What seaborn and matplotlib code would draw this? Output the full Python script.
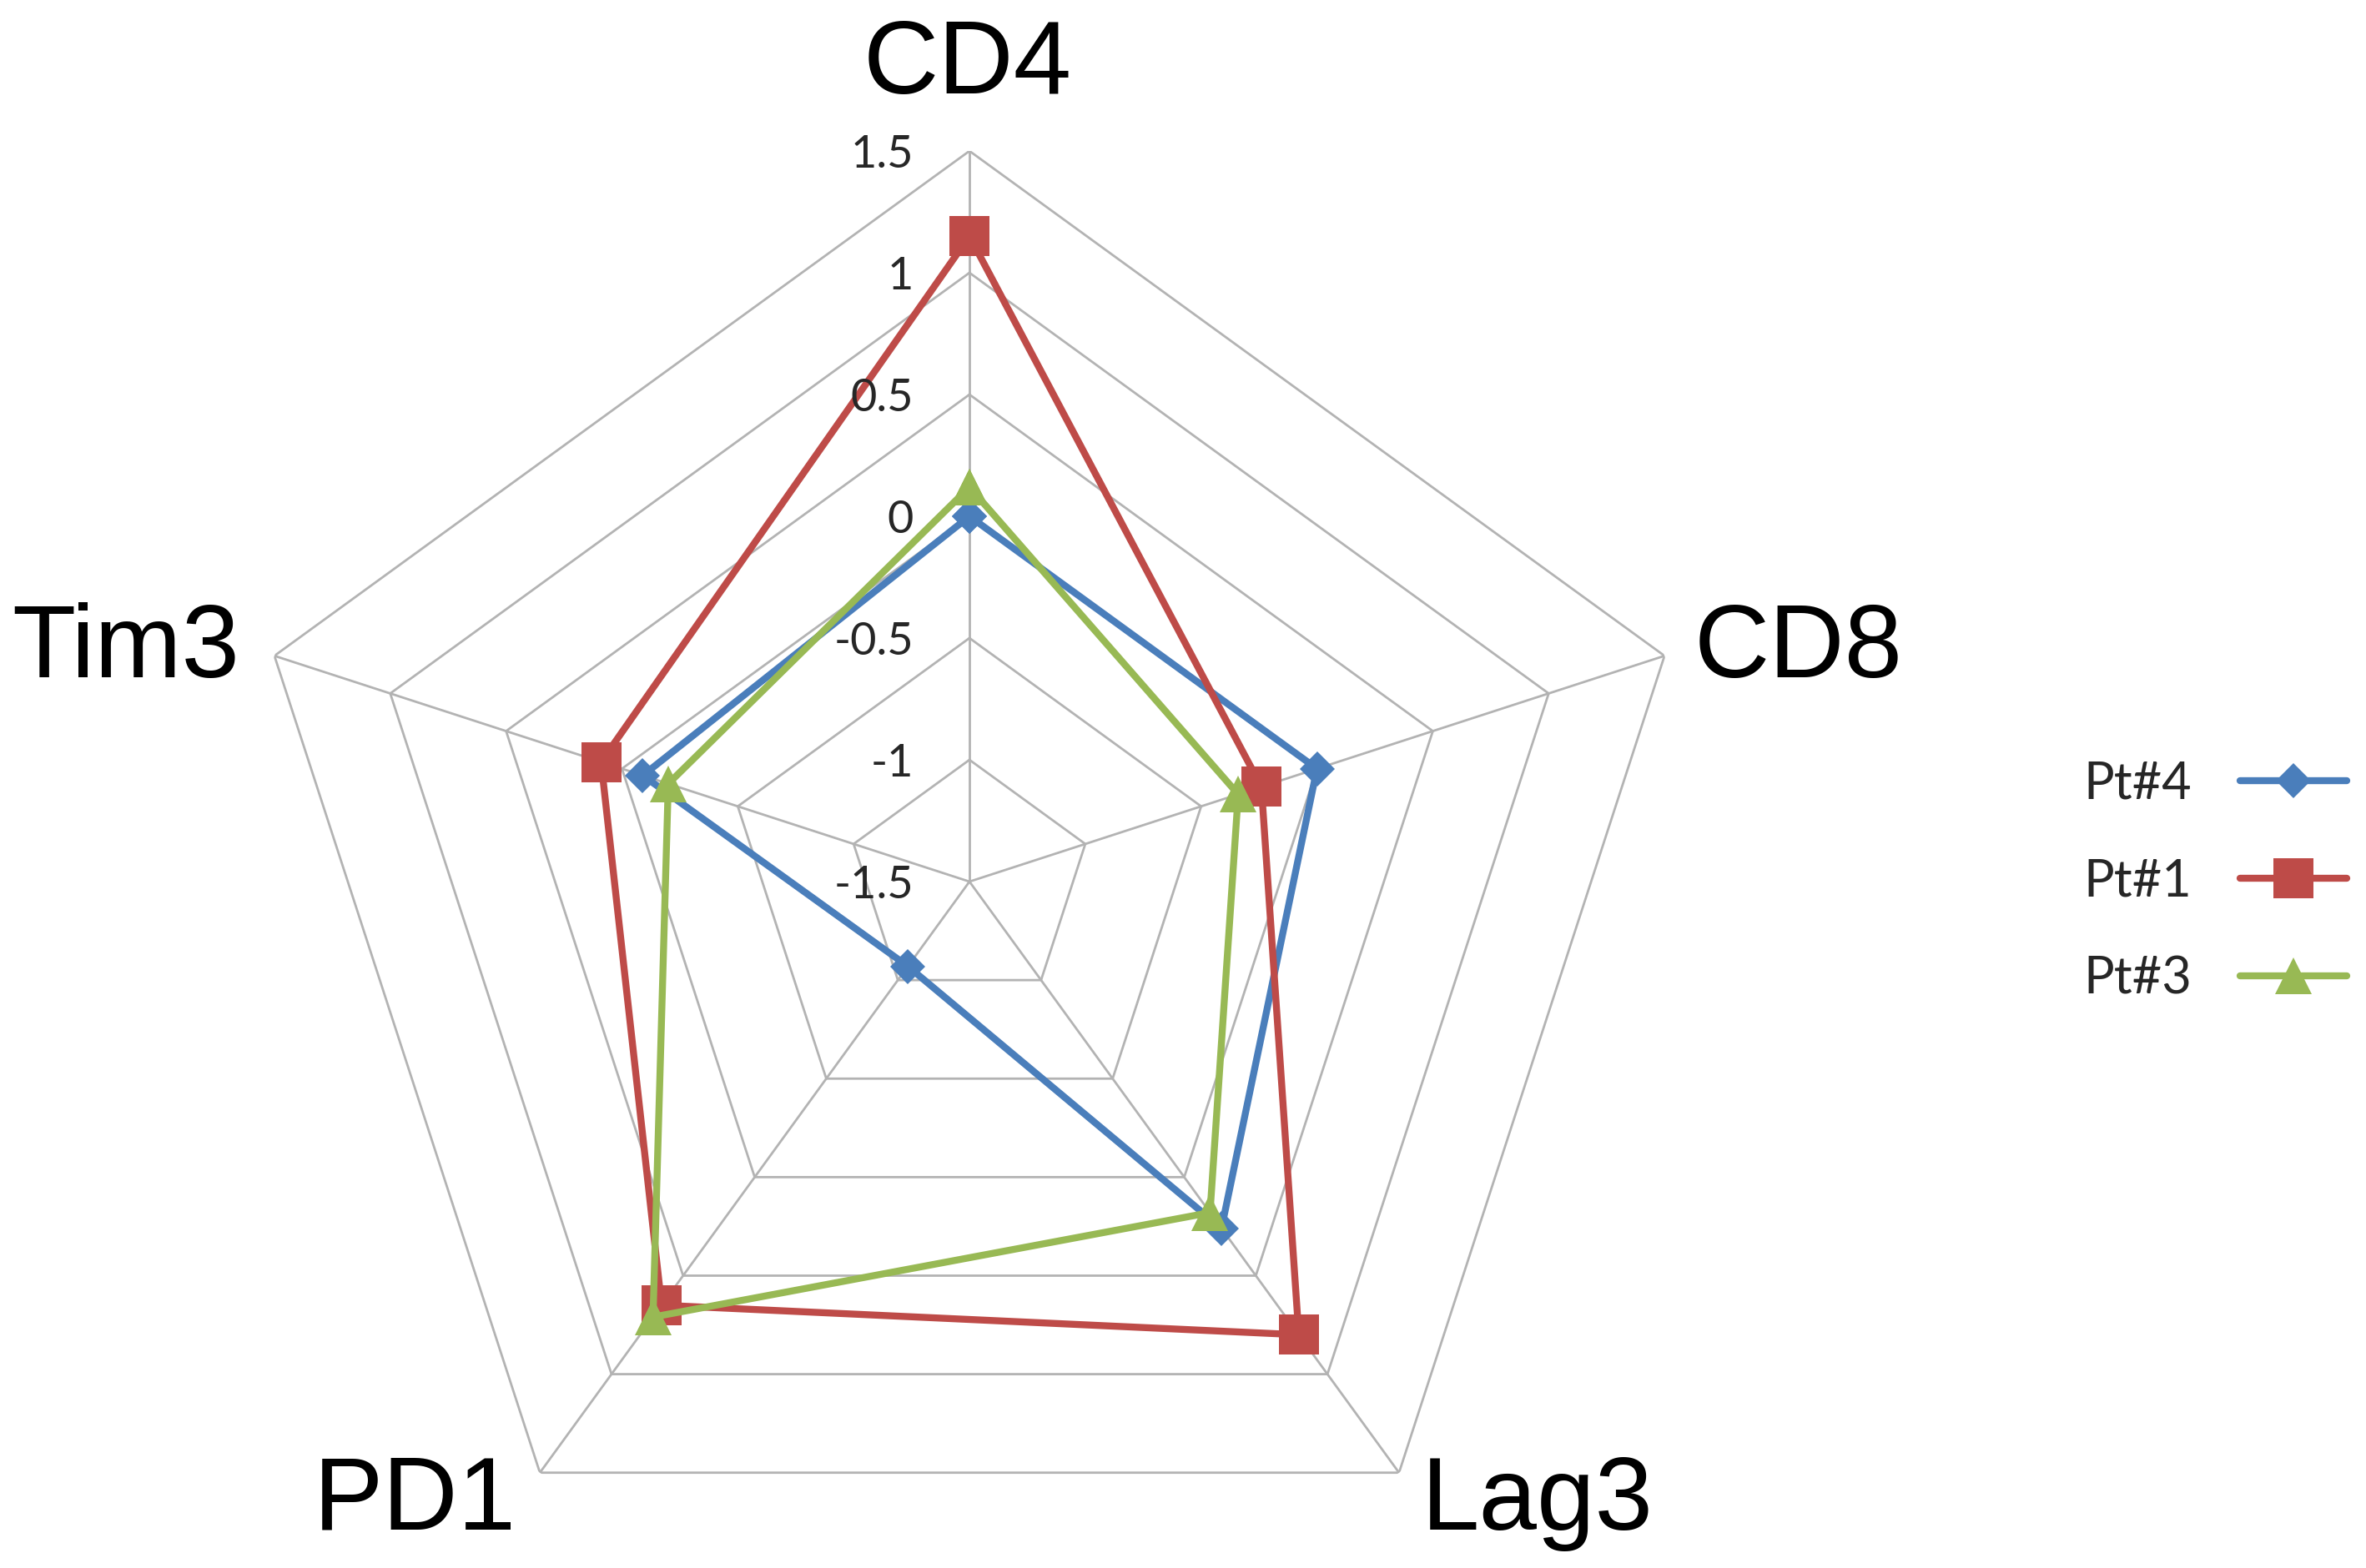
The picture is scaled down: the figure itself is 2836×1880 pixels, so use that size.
import numpy as np
import pandas as pd
import seaborn as sns
import matplotlib
matplotlib.use("Agg")
import matplotlib.pyplot as plt

# ───────────────────────
# Data
# ───────────────────────
markers_axes = ["CD4", "CD8", "Lag3", "PD1", "Tim3"]
pt4 = [0.00, 0.00, 0.26, -1.07, -0.09]
pt1 = [1.15, -0.24, 0.80, 0.65, 0.09]
pt3 = [0.12, -0.34, 0.18, 0.71, -0.20]
series_names = ["Pt#4", "Pt#1", "Pt#3"]
ring_levels = [-1.5, -1.0, -0.5, 0.0, 0.5, 1.0, 1.5]
ring_labels = ["-1.5", "-1", "-0.5", "0", "0.5", "1", "1.5"]

sns.set_theme(style="white")
plt.rcParams["font.family"] = ["Lato", "DejaVu Sans"]

colors = ["#4a7ebb", "#be4b48", "#98b954"]
mk = ["D", "s", "^"]
mk_size = [10.5, 17, 16]

PT = 72 / 200  # pixels -> points at 200 dpi

fig = plt.figure(figsize=(14.18, 9.4), dpi=200)
ax = fig.add_axes([0.10085, -0.02819, 0.6178, 0.9319], projection="polar")
ax.set_theta_zero_location("N")
ax.set_theta_direction(-1)
ax.set_ylim(-1.5, 1.5)
ax.grid(False)
ax.spines["polar"].set_visible(False)
ax.set_xticks([])
ax.set_yticks([])
ax.patch.set_alpha(0)

n = len(markers_axes)
theta = np.linspace(0, 2 * np.pi, n, endpoint=False)
theta_closed = np.append(theta, 2 * np.pi)

# pentagon grid
grid_c = "#b3b3b3"
for lvl in ring_levels[1:]:
    ax.plot(theta_closed, [lvl] * (n + 1), color=grid_c, lw=1.0, zorder=1)
for t in theta:
    ax.plot([t, t], [-1.5, 1.5], color=grid_c, lw=1.0, zorder=1)

# series
df = pd.DataFrame({"axis": markers_axes, "Pt#4": pt4, "Pt#1": pt1, "Pt#3": pt3})
for name, c, m, ms in zip(series_names, colors, mk, mk_size):
    vals = df[name].tolist()
    vals = vals + vals[:1]
    sns.lineplot(x=theta_closed, y=vals, ax=ax, color=c, lw=3.0, marker=m,
                 markersize=ms, markeredgewidth=0, sort=False, estimator=None,
                 label=name, zorder=3)

# radial tick labels along the CD4 spoke
for lvl, lab in zip(ring_levels, ring_labels):
    ax.annotate(lab, xy=(0, lvl), xytext=(-67 * PT, -19.5 * PT),
                textcoords="offset points", ha="right", va="baseline",
                fontsize=19.5, color="#262626", zorder=5)

# category labels outside the vertices
label_pos = {
    "CD4": ((-2, 69), "center"),
    "CD8": ((35, -26), "left"),
    "Lag3": ((27, -68), "left"),
    "PD1": ((-28, -68), "right"),
    "Tim3": ((-42, -26), "right"),
}
for t, lab in zip(theta, markers_axes):
    (dx, dy), ha = label_pos[lab]
    ax.annotate(lab, xy=(t, 1.5), xytext=(dx * PT, dy * PT),
                textcoords="offset points", ha=ha, va="baseline",
                fontsize=45, family=["Liberation Sans", "DejaVu Sans"],
                color="black", annotation_clip=False)

ax.legend(loc="center left", bbox_to_anchor=(0.8805, 0.4378),
          bbox_transform=fig.transFigure, markerfirst=False, frameon=False,
          fontsize=22, handlelength=2.1, handletextpad=0.95, labelspacing=0.98,
          borderpad=0, borderaxespad=0, numpoints=1)

fig.savefig("out.png", dpi=200)
